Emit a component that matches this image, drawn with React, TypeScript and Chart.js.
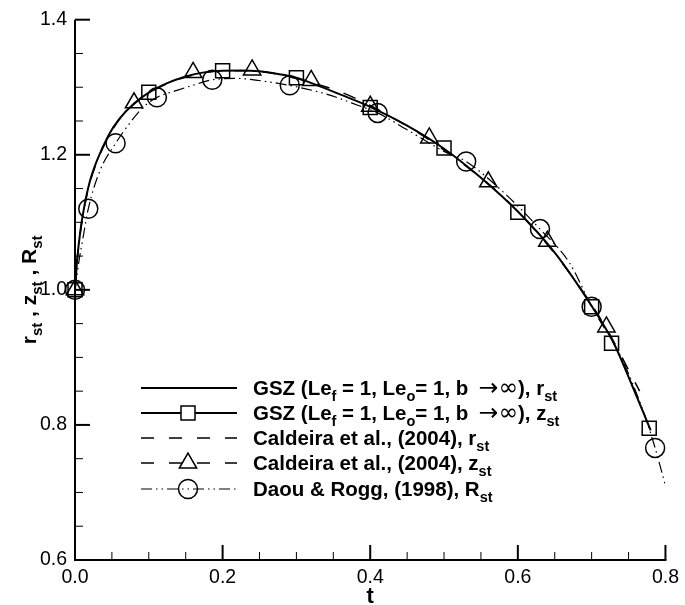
import React, { useEffect, useRef } from 'react';
import { Chart, registerables } from 'chart.js';

Chart.register(...registerables);

// ---- data ----
const gszT = [0, 0.003, 0.007, 0.012, 0.02, 0.03, 0.045, 0.06, 0.08, 0.1, 0.125, 0.15, 0.175, 0.2, 0.225, 0.25, 0.275, 0.3, 0.33, 0.36, 0.4, 0.45, 0.5, 0.55, 0.6, 0.65, 0.7, 0.73, 0.755, 0.78];
const gszR = [1.0, 1.045, 1.085, 1.12, 1.16, 1.192, 1.228, 1.253, 1.276, 1.292, 1.306, 1.316, 1.322, 1.3245, 1.3248, 1.3235, 1.3195, 1.314, 1.302, 1.289, 1.271, 1.243, 1.209, 1.166, 1.116, 1.055, 0.976, 0.921, 0.858, 0.792];
const gszZMarkT = [0, 0.1, 0.2, 0.3, 0.4, 0.5, 0.6, 0.7, 0.727, 0.778];
const gszZMarkV = [1.0, 1.2925, 1.3245, 1.314, 1.27, 1.21, 1.115, 0.975, 0.921, 0.795];

const calT = [0, 0.003, 0.007, 0.012, 0.02, 0.03, 0.045, 0.06, 0.08, 0.1, 0.12, 0.16, 0.2, 0.24, 0.28, 0.32, 0.36, 0.4, 0.44, 0.48, 0.52, 0.56, 0.6, 0.64, 0.68, 0.72, 0.745, 0.765];
const calR = [1.0, 1.045, 1.083, 1.118, 1.158, 1.19, 1.226, 1.252, 1.275, 1.291, 1.303, 1.318, 1.3245, 1.3245, 1.318, 1.307, 1.293, 1.273, 1.249, 1.222, 1.191, 1.157, 1.116, 1.067, 1.01, 0.943, 0.892, 0.85];
const calZMarkT = [0, 0.08, 0.16, 0.24, 0.32, 0.4, 0.48, 0.56, 0.64, 0.72];
const calZMarkV = [1.0, 1.277, 1.322, 1.3256, 1.31, 1.272, 1.225, 1.16, 1.072, 0.945];

const daouT = [0, 0.005, 0.011, 0.018, 0.034, 0.055, 0.075, 0.092, 0.111, 0.137, 0.16, 0.186, 0.22, 0.249, 0.294, 0.34, 0.384, 0.41, 0.45, 0.5, 0.53, 0.58, 0.63, 0.67, 0.7, 0.74, 0.77, 0.786, 0.8];
const daouR = [1.0, 1.04, 1.078, 1.12, 1.177, 1.217, 1.248, 1.27, 1.285, 1.295, 1.303, 1.311, 1.313, 1.31, 1.302, 1.29, 1.273, 1.262, 1.237, 1.205, 1.19, 1.145, 1.09, 1.04, 0.975, 0.9, 0.82, 0.766, 0.71];
const daouMarkT = [0, 0.018, 0.055, 0.111, 0.186, 0.291, 0.41, 0.53, 0.63, 0.7, 0.786];
const daouMarkV = [1.0, 1.12, 1.217, 1.285, 1.311, 1.303, 1.262, 1.19, 1.09, 0.975, 0.766];

const xTicks = [0, 0.2, 0.4, 0.6, 0.8];
const yTicks = [0.6, 0.8, 1.0, 1.2, 1.4];
const xTitle = 't';

type Part = [string, 'b' | 's' | 'y'];
const yTitleParts: Part[] = [['r', 'b'], ['st', 's'], [' , z', 'b'], ['st', 's'], [' , R', 'b'], ['st', 's']];
const legendRows: { parts: Part[]; line: string; marker: string }[] = [
  { parts: [['GSZ (Le', 'b'], ['f', 's'], [' = 1, Le', 'b'], ['o', 's'], ['= 1, b ', 'b'], ['\u2009\u2192\u221E', 'y'], ['), r', 'b'], ['st', 's']], line: 'solid', marker: 'none' },
  { parts: [['GSZ (Le', 'b'], ['f', 's'], [' = 1, Le', 'b'], ['o', 's'], ['= 1, b ', 'b'], ['\u2009\u2192\u221E', 'y'], ['), z', 'b'], ['st', 's']], line: 'solid', marker: 'rect' },
  { parts: [['Caldeira et al., (2004), r', 'b'], ['st', 's']], line: 'dash', marker: 'none' },
  { parts: [['Caldeira et al., (2004), z', 'b'], ['st', 's']], line: 'dash', marker: 'triangle' },
  { parts: [['Daou & Rogg, (1998), R', 'b'], ['st', 's']], line: 'dashdot', marker: 'circle' },
];

const FONT = '"Liberation Sans", Arial, Helvetica, sans-serif';
const DASH = [13, 15];
const DASHDOT = [11, 4, 1.5, 4, 1.5, 4];

const pts = (t: number[], v: number[]) => t.map((x, i) => ({ x, y: v[i] }));

function partFont(k: string, big: number, sub: number) {
  if (k === 's') return `bold ${sub}px ${FONT}`;
  if (k === 'y') return `${big + 3}px "DejaVu Sans", ${FONT}`;
  return `bold ${big}px ${FONT}`;
}

function drawParts(ctx: CanvasRenderingContext2D, parts: Part[], x: number, y: number, big: number, sub: number, drop: number) {
  let cx = x;
  for (const [txt, k] of parts) {
    ctx.font = partFont(k, big, sub);
    ctx.fillText(txt, cx, k === 's' ? y + drop : y);
    cx += ctx.measureText(txt).width;
  }
  return cx;
}
function partsWidth(ctx: CanvasRenderingContext2D, parts: Part[], big: number, sub: number) {
  let w = 0;
  for (const [txt, k] of parts) {
    ctx.font = partFont(k, big, sub);
    w += ctx.measureText(txt).width;
  }
  return w;
}

function marker(ctx: CanvasRenderingContext2D, kind: string, x: number, y: number, fill: boolean) {
  ctx.beginPath();
  if (kind === 'rect') {
    ctx.rect(x - 7, y - 7, 14, 14);
  } else if (kind === 'triangle') {
    const r = 10;
    ctx.moveTo(x, y - r);
    ctx.lineTo(x + r * 0.866, y + r * 0.5);
    ctx.lineTo(x - r * 0.866, y + r * 0.5);
    ctx.closePath();
  } else if (kind === 'circle') {
    ctx.arc(x, y, 9.5, 0, Math.PI * 2);
  } else return;
  if (fill) {
    ctx.fillStyle = '#fff';
    ctx.fill();
  }
  ctx.lineWidth = 1.5;
  ctx.setLineDash([]);
  ctx.stroke();
}

const decorPlugin = {
  id: 'decor',
  afterDraw(chart: any) {
    const ctx: CanvasRenderingContext2D = chart.ctx;
    const xs = chart.scales.x;
    const ys = chart.scales.y;
    const { left, right, top, bottom } = chart.chartArea;
    ctx.save();
    ctx.strokeStyle = '#000';
    ctx.fillStyle = '#000';
    ctx.lineCap = 'butt';
    // axes
    ctx.lineWidth = 2;
    ctx.beginPath();
    ctx.moveTo(left, top);
    ctx.lineTo(left, bottom);
    ctx.lineTo(right + 1, bottom);
    ctx.stroke();
    // ticks (inward)
    const xMin = xs.min, xMax = xs.max, yMin = ys.min, yMax = ys.max;
    for (let v = xMin; v <= xMax + 1e-9; v += 0.05) {
      const major = xTicks.some((t) => Math.abs(t - v) < 1e-6);
      const px = xs.getPixelForValue(v);
      ctx.lineWidth = major ? 2 : 1;
      ctx.beginPath();
      ctx.moveTo(px, bottom);
      ctx.lineTo(px, bottom - (major ? 15 : 8));
      ctx.stroke();
    }
    for (let v = yMin; v <= yMax + 1e-9; v += 0.05) {
      const major = yTicks.some((t) => Math.abs(t - v) < 1e-6);
      const py = ys.getPixelForValue(v);
      ctx.lineWidth = major ? 2 : 1;
      ctx.beginPath();
      ctx.moveTo(left, py);
      ctx.lineTo(left + (major ? 15 : 8), py);
      ctx.stroke();
    }
    // x title
    ctx.fillStyle = '#000';
    ctx.font = `bold 22px ${FONT}`;
    ctx.textAlign = 'center';
    ctx.textBaseline = 'alphabetic';
    ctx.fillText(xTitle, (left + right) / 2, 603);
    // y title
    ctx.save();
    ctx.translate(28, (top + bottom) / 2);
    ctx.rotate(-Math.PI / 2);
    ctx.textAlign = 'left';
    const tw = partsWidth(ctx, yTitleParts, 21, 15);
    drawParts(ctx, yTitleParts, -tw / 2, 8, 21, 15, 6);
    ctx.restore();
    // legend
    const rowY = [388, 413, 438, 463, 489];
    const x0 = 141, x1 = 237, mx = 188, tx = 253;
    legendRows.forEach((row, i) => {
      const y = rowY[i];
      ctx.strokeStyle = '#000';
      ctx.beginPath();
      if (row.line === 'solid') { ctx.setLineDash([]); ctx.lineWidth = 2; }
      else if (row.line === 'dash') { ctx.setLineDash(DASH); ctx.lineWidth = 1.5; }
      else { ctx.setLineDash(DASHDOT); ctx.lineWidth = 1.2; }
      ctx.moveTo(x0, y);
      ctx.lineTo(x1, y);
      ctx.stroke();
      ctx.setLineDash([]);
      marker(ctx, row.marker, mx, y, row.marker !== 'circle');
      ctx.fillStyle = '#000';
      ctx.textAlign = 'left';
      ctx.textBaseline = 'alphabetic';
      drawParts(ctx, row.parts, tx, y + 7, 20.5, 14.5, 6);
    });
    ctx.restore();
  },
};

export default function App() {
  const ref = useRef<HTMLCanvasElement>(null);
  useEffect(() => {
    if (!ref.current) return;
    const chart = new Chart(ref.current, {
      type: 'line',
      data: {
        datasets: [
          { label: 'GSZ r_st', data: pts(gszT, gszR), borderColor: '#000', borderWidth: 2, pointRadius: 0, cubicInterpolationMode: 'monotone', fill: false },
          { label: 'GSZ z_st', data: pts(gszZMarkT, gszZMarkV), showLine: false, pointStyle: 'rect', pointRadius: 9.9, pointBorderColor: '#000', pointBackgroundColor: 'rgba(0,0,0,0)', pointBorderWidth: 1.5, clip: false as any },
          { label: 'Caldeira r_st', data: pts(calT, calR), borderColor: '#000', borderWidth: 1.5, borderDash: DASH, pointRadius: 0, cubicInterpolationMode: 'monotone', fill: false },
          { label: 'Caldeira z_st', data: pts(calZMarkT, calZMarkV), showLine: false, pointStyle: 'triangle', pointRadius: 10, pointBorderColor: '#000', pointBackgroundColor: 'rgba(0,0,0,0)', pointBorderWidth: 1.5, clip: false as any },
          { label: 'Daou R_st', data: pts(daouT, daouR), borderColor: '#000', borderWidth: 1.2, borderDash: DASHDOT, pointRadius: 0, cubicInterpolationMode: 'monotone', fill: false },
          { label: 'Daou markers', data: pts(daouMarkT, daouMarkV), showLine: false, pointStyle: 'circle', pointRadius: 9.5, pointBorderColor: '#000', pointBackgroundColor: 'rgba(0,0,0,0)', pointBorderWidth: 1.5, clip: false as any },
        ] as any,
      },
      options: {
        animation: false,
        responsive: true,
        maintainAspectRatio: false,
        events: [],
        layout: { padding: { top: 19, right: 16, left: 0, bottom: 0 } },
        plugins: { legend: { display: false }, tooltip: { enabled: false } },
        scales: {
          x: {
            type: 'linear',
            min: 0,
            max: 0.8,
            grid: { display: false, drawTicks: false },
            border: { display: false },
            afterBuildTicks: (s: any) => { s.ticks = xTicks.map((v) => ({ value: v })); },
            afterFit: (s: any) => { s.height = 45; },
            ticks: { color: '#000', padding: 6, font: { family: FONT, size: 19.5 }, callback: (v: any) => Number(v).toFixed(1), maxRotation: 0, autoSkip: false },
          },
          y: {
            type: 'linear',
            min: 0.6,
            max: 1.4,
            grid: { display: false, drawTicks: false },
            border: { display: false },
            afterBuildTicks: (s: any) => { s.ticks = yTicks.map((v) => ({ value: v })); },
            afterFit: (s: any) => { s.width = 75; },
            ticks: { color: '#000', padding: 8, font: { family: FONT, size: 19.5 }, callback: (v: any) => Number(v).toFixed(1), autoSkip: false },
          },
        },
      },
      plugins: [decorPlugin],
    });
    return () => chart.destroy();
  }, []);
  return (
    <div style={{ position: 'fixed', left: 0, top: 0, width: 685, height: 605, background: '#fff' }}>
      <canvas ref={ref} />
    </div>
  );
}
